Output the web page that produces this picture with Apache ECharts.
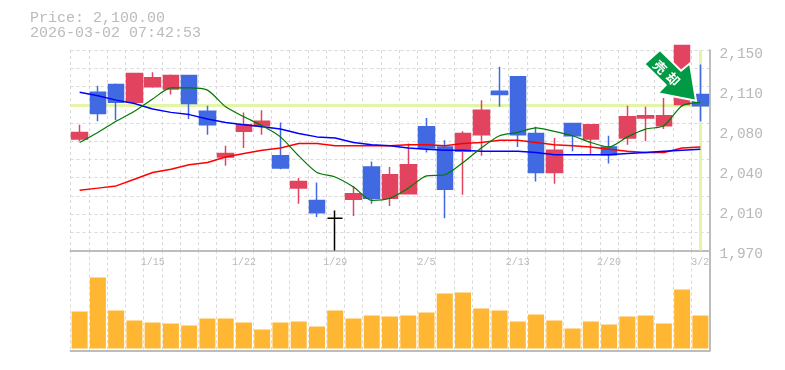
<!DOCTYPE html>
<html><head><meta charset="utf-8">
<style>html,body{margin:0;padding:0;background:#fff}#c{width:785px;height:370px}</style>
<script src="https://cdn.jsdelivr.net/npm/echarts@6/dist/echarts.min.js"></script>
</head><body><div id="c"></div>
<script>
const titleLines = ['Price: 2,100.00', '2026-03-02 07:42:53'];
const dates = ['1/8','1/9','1/13','1/14','1/15','1/16','1/19','1/20','1/21','1/22','1/23','1/26','1/27','1/28','1/29','1/30','2/2','2/3','2/4','2/5','2/6','2/9','2/10','2/12','2/13','2/16','2/17','2/18','2/19','2/20','2/24','2/25','2/26','2/27','3/2'];
const opens  = [2070,2112,2119,2103,2117,2115,2127,2095,2054,2077,2082,2055,2026,2015,1999,2016,2045,2017,2021,2081,2063,2059,2074,2113,2126,2075,2040,2084,2070,2063,2071,2089,2082,2101,2110];
const closes = [2076,2093,2103,2129,2125,2127,2102,2083,2057,2083,2086,2044,2032,2004,1999,2021,2017,2038,2047,2062,2025,2075,2096,2110,2074,2040,2060,2073,2083,2056,2090,2091,2091,2154,2100];
const highs  = [2083,2118,2120,2129,2130,2128,2127,2100,2064,2094,2096,2085,2035,2031,2006,2028,2050,2045,2066,2089,2069,2077,2105,2135,2126,2081,2071,2084,2083,2073,2100,2099,2107,2154,2137];
const lows   = [2068,2086,2087,2103,2116,2110,2088,2074,2046,2062,2074,2043,2012,2000,1970,2001,2012,2010,2021,2058,1999,2020,2055,2099,2063,2032,2030,2059,2056,2048,2065,2068,2079,2099,2086];
const maShort = [2067,2076,2086,2095,2106,2116,2116,2114,2099,2090,2082,2072,2055,2040,2036,2027,2015,2017,2026,2037,2038,2049,2062,2073,2076,2080,2077,2073,2067,2063,2072,2079,2082,2100,2103];
const maMid   = [2112,2109,2105,2102,2097,2094,2092,2088,2085,2083,2081,2079,2075,2072,2071,2067,2065,2064,2062,2061,2060,2060,2059,2059,2059,2058,2056,2056,2056,2056,2057,2058,2059,2060,2061];
const maLong  = [2024,2026,2028,2034,2040,2043,2047,2049,2054,2057,2060,2062,2066,2066,2064,2064,2064,2064,2065,2065,2064,2066,2067,2069,2069,2067,2065,2064,2063,2061,2059,2058,2058,2062,2063];
const volumes = [37,71,38,28,26,25,23,30,30,26,19,26,27,22,38,30,33,32,33,36,55,56,40,38,27,34,28,20,27,24,32,33,25,59,33];
const gridPrices = [1970,1986.4,2002.7,2019.1,2035.5,2051.8,2068.2,2084.5,2100.9,2117.3,2133.6,2150];
const labelPrices = [1970,2006,2042,2078,2114,2150];
const tickLabels = ['1,970','2,010','2,040','2,080','2,110','2,150'];
const labelDates = ['1/15','1/22','1/29','2/5','2/13','2/20','3/2'];
const lastPrice = 2100;
const signalChars = ['売','却'];

const RED='#e2445f', BLUE='#4169e1', GREY='#bdbdbd', DASH='#d9d9d9';
const candles = dates.map((d,i)=>{
  const v=[opens[i],closes[i],lows[i],highs[i]];
  return opens[i]===closes[i]
    ? {value:v,itemStyle:{color:'#000',color0:'#000',borderColor:'#000',borderColor0:'#000',borderColorDoji:'#000'}}
    : v;
});
const dashed={show:true,lineStyle:{color:DASH,type:[3,3],width:1}};
const xBase=(idx)=>({type:'category',gridIndex:idx,data:dates,boundaryGap:true,
  axisTick:{show:false},axisLine:{show:true,onZero:false,lineStyle:{color:GREY,width:2}},
  splitLine:Object.assign({},dashed,{interval:0})});
const arrow=[[660,50],[681,70.7],[690,63.3],[696,100.7],[657.7,93.3],[665.7,85],[644.3,64]];
const chart=echarts.init(document.getElementById('c'),null,{renderer:'canvas'});
chart.setOption({
  animation:false,backgroundColor:'#fff',
  grid:[{left:70.5,right:75.5,top:50,height:200.5,containLabel:false},
        {left:70.5,right:75.5,top:250.5,height:100}],
  xAxis:[
    Object.assign(xBase(0),{position:'bottom',axisLabel:{show:true,
      interval:(i,v)=>labelDates.includes(v),color:'#bbb',fontFamily:'Liberation Mono',fontSize:10,margin:7,hideOverlap:false,showMinLabel:true,showMaxLabel:true}}),
    Object.assign(xBase(1),{axisLabel:{show:false}})
  ],
  yAxis:[
    {type:'value',gridIndex:0,position:'right',min:1970,max:2150,scale:true,
      axisLine:{show:true,lineStyle:{color:GREY,width:2}},
      axisTick:{show:false,customValues:gridPrices},
      splitLine:dashed,
      axisLabel:{customValues:labelPrices,margin:10,color:'#b8b8b8',fontFamily:'Liberation Mono',fontSize:14.5,
        formatter:(v)=>'{t|'+tickLabels[labelPrices.indexOf(v)]+'}',
        rich:{t:{padding:[8,0,0,0],color:'#b8b8b8',fontFamily:'Liberation Mono',fontSize:14.5}}}},
    {type:'value',gridIndex:1,position:'right',min:-2,max:98,
      axisLine:{show:true,lineStyle:{color:GREY,width:2}},axisTick:{show:false},axisLabel:{show:false},splitLine:{show:false}}
  ],
  graphic:[
    {type:'text',left:30,top:11,z:10,style:{text:titleLines[0],fill:'#bbb',font:'15px "Liberation Mono"'}},
    {type:'text',left:30,top:26,z:10,style:{text:titleLines[1],fill:'#bbb',font:'15px "Liberation Mono"'}},
    {type:'polygon',z:100,shape:{points:arrow},style:{fill:'#009944',stroke:'#fff',lineWidth:2}},
    {type:'text',z:101,x:660,y:67,rotation:-Math.PI/4,style:{text:signalChars[0],fill:'#fff',font:'bold 13px "Noto Sans CJK JP"',align:'center',verticalAlign:'middle'}},
    {type:'text',z:101,x:673,y:79,rotation:-Math.PI/4,style:{text:signalChars[1],fill:'#fff',font:'bold 13px "Noto Sans CJK JP"',align:'center',verticalAlign:'middle'}}
  ],
  series:[
    {type:'line',name:'guide',xAxisIndex:0,yAxisIndex:0,data:[],z:1,silent:true,
      markLine:{silent:true,symbol:'none',label:{show:false},animation:false,z:1,
        lineStyle:{color:'#e2f5a8',width:3,type:'solid'},
        data:[{yAxis:lastPrice},{xAxis:dates[dates.length-1]}]}},
    {type:'candlestick',xAxisIndex:0,yAxisIndex:0,data:candles,barWidth:16,clip:false,z:3,
      itemStyle:{color:RED,color0:BLUE,borderColor:RED,borderColor0:BLUE,borderWidth:1.5}},
    {type:'line',xAxisIndex:0,yAxisIndex:0,data:maLong,showSymbol:false,z:4,lineStyle:{color:'#ff0000',width:1.5}},
    {type:'line',xAxisIndex:0,yAxisIndex:0,data:maMid,showSymbol:false,z:4,lineStyle:{color:'#0000ff',width:1.5}},
    {type:'line',xAxisIndex:0,yAxisIndex:0,data:maShort,showSymbol:false,smooth:0.25,z:5,lineStyle:{color:'#007a00',width:1.2}},
    {type:'bar',xAxisIndex:1,yAxisIndex:1,data:volumes,barWidth:16,z:3,itemStyle:{color:'#ffb733'}}
  ]
});
</script></body></html>
